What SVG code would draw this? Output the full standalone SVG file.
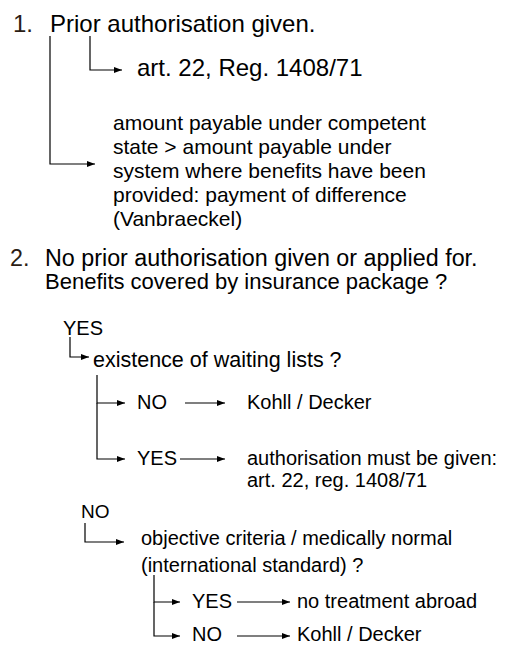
<svg xmlns="http://www.w3.org/2000/svg" width="507" height="646" viewBox="0 0 507 646">
<defs>
<marker id="ah" viewBox="0 0 8 6" refX="8" refY="3" markerWidth="8" markerHeight="6" markerUnits="userSpaceOnUse" orient="auto">
<path d="M0,0 L8,3 L0,6 Z" fill="#000"/>
</marker>
<style>
text{font-family:"Liberation Sans",Arial,sans-serif;fill:#000}
.num{fill:#2b1d14}
.a{stroke:#000;stroke-width:1.2;fill:none;marker-end:url(#ah)}
</style>
</defs>
<rect width="507" height="646" fill="#fff"/>
<g id="connectors">
<path class="a" d="M50,36 V164 H95"/>
<path class="a" d="M90,36 V70 H122"/>
<path class="a" d="M70,337 V357 H89"/>
<path class="a" d="M97,375 V403 H125"/>
<path class="a" d="M97,403 V459 H125"/>
<path class="a" d="M185,403 H225"/>
<path class="a" d="M180,459 H225"/>
<path class="a" d="M85,523 V542 H124"/>
<path class="a" d="M154,575 V602 H180"/>
<path class="a" d="M154,602 V636 H180"/>
<path class="a" d="M237,602 H290"/>
<path class="a" d="M237,636 H290"/>
</g>
<g id="n1">
<text x="13" y="32" font-size="24"><tspan class="num">1.</tspan></text>
<text x="50" y="32" font-size="24">Prior authorisation given.</text>
</g>
<g id="n1a">
<text x="137" y="76" font-size="24">art. 22, Reg. 1408/71</text>
</g>
<g id="n1b">
<text x="113" y="130" font-size="21">amount payable under competent</text>
<text x="113" y="154" font-size="21">state &gt; amount payable under</text>
<text x="113" y="178" font-size="21">system where benefits have been</text>
<text x="113" y="202" font-size="21">provided: payment of difference</text>
<text x="113" y="226" font-size="21">(Vanbraeckel)</text>
</g>
<g id="n2">
<text x="10" y="266" font-size="23.3"><tspan class="num">2.</tspan></text>
<text x="45" y="266" font-size="23.3">No prior authorisation given or applied for.</text>
<text x="45" y="289" font-size="22">Benefits covered by insurance package ?</text>
</g>
<g id="yes1"><text x="63" y="335" font-size="20">YES</text></g>
<g id="wait"><text x="93" y="367" font-size="21.5">existence of waiting lists ?</text></g>
<g id="no2"><text x="137" y="409" font-size="20">NO</text></g>
<g id="kd1"><text x="247" y="409" font-size="20">Kohll / Decker</text></g>
<g id="yes2"><text x="137" y="465" font-size="20">YES</text></g>
<g id="auth">
<text x="247" y="465" font-size="20">authorisation must be given:</text>
<text x="247" y="487" font-size="20">art. 22, reg. 1408/71</text>
</g>
<g id="no1"><text x="81" y="518" font-size="19">NO</text></g>
<g id="obj">
<text x="141" y="545" font-size="20">objective criteria / medically normal</text>
<text x="141" y="572" font-size="20">(international standard) ?</text>
</g>
<g id="yes3"><text x="192" y="608" font-size="20">YES</text></g>
<g id="nta"><text x="297" y="608" font-size="20">no treatment abroad</text></g>
<g id="no3"><text x="192" y="641" font-size="20">NO</text></g>
<g id="kd2"><text x="297" y="641" font-size="20">Kohll / Decker</text></g>
</svg>
